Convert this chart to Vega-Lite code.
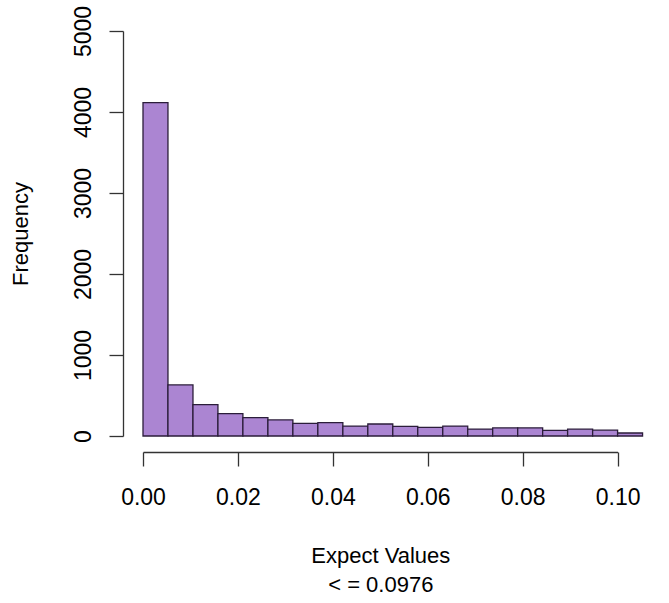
{
  "$schema": "https://vega.github.io/schema/vega-lite/v6.json",
  "width": 474.6,
  "height": 405,
  "autosize": {"type": "none"},
  "padding": {"left": 143, "top": 31, "right": 51.4, "bottom": 167},
  "background": "white",
  "config": {"view": {"stroke": null}, "font": "Liberation Sans"},
  "title": {"text": "6,835 bad hits", "fontSize": 23, "fontWeight": "bold", "color": "#000000", "offset": 0, "dx": 12, "dy": 14, "baseline": "alphabetic", "anchor": "middle"},
  "data": {"values": [
    {"start": 0.0, "end": 0.00526, "count": 4115},
    {"start": 0.00526, "end": 0.01053, "count": 630},
    {"start": 0.01053, "end": 0.01579, "count": 387},
    {"start": 0.01579, "end": 0.02105, "count": 276},
    {"start": 0.02105, "end": 0.02632, "count": 226},
    {"start": 0.02632, "end": 0.03158, "count": 198},
    {"start": 0.03158, "end": 0.03684, "count": 156},
    {"start": 0.03684, "end": 0.04211, "count": 165},
    {"start": 0.04211, "end": 0.04737, "count": 123},
    {"start": 0.04737, "end": 0.05263, "count": 148},
    {"start": 0.05263, "end": 0.05789, "count": 120},
    {"start": 0.05789, "end": 0.06316, "count": 107},
    {"start": 0.06316, "end": 0.06842, "count": 123},
    {"start": 0.06842, "end": 0.07368, "count": 86},
    {"start": 0.07368, "end": 0.07895, "count": 100},
    {"start": 0.07895, "end": 0.08421, "count": 100},
    {"start": 0.08421, "end": 0.08947, "count": 70},
    {"start": 0.08947, "end": 0.09474, "count": 84},
    {"start": 0.09474, "end": 0.1, "count": 72},
    {"start": 0.1, "end": 0.10526, "count": 37}
  ]},
  "mark": {"type": "bar", "fill": "#ab85d2", "stroke": "#2b1d3a", "strokeWidth": 1.3, "clip": false},
  "encoding": {
    "x": {
      "field": "start", "type": "quantitative",
      "scale": {"domain": [0, 0.1], "nice": false, "zero": false},
      "axis": {
        "title": ["Expect Values", "< = 0.0976"],
        "values": [0, 0.02, 0.04, 0.06, 0.08, 0.1],
        "format": ".2f", "grid": false, "offset": 16, "tickSize": 14,
        "domainColor": "#333333", "tickColor": "#333333", "tickWidth": 1.3, "domainWidth": 1.3,
        "labelFontSize": 23, "labelColor": "#000000", "labelPadding": 20, "labelFlush": false,
        "titleFontSize": 22, "titleFontWeight": "normal", "titleColor": "#000000",
        "titlePadding": 36, "titleLineHeight": 29
      }
    },
    "x2": {"field": "end"},
    "y": {
      "field": "count", "type": "quantitative",
      "scale": {"domain": [0, 5000], "nice": false},
      "axis": {
        "title": "Frequency",
        "values": [0, 1000, 2000, 3000, 4000, 5000],
        "format": "d",
        "grid": false, "offset": 20, "tickSize": 14,
        "domainColor": "#333333", "tickColor": "#333333", "tickWidth": 1.3, "domainWidth": 1.3,
        "labelAngle": -90, "labelAlign": "center", "labelBaseline": "bottom",
        "labelFontSize": 23, "labelColor": "#000000", "labelPadding": 14, "labelFlush": false,
        "titleFontSize": 22, "titleFontWeight": "normal", "titleColor": "#000000",
        "titlePadding": 40
      }
    },
    "y2": {"datum": 0}
  }
}
